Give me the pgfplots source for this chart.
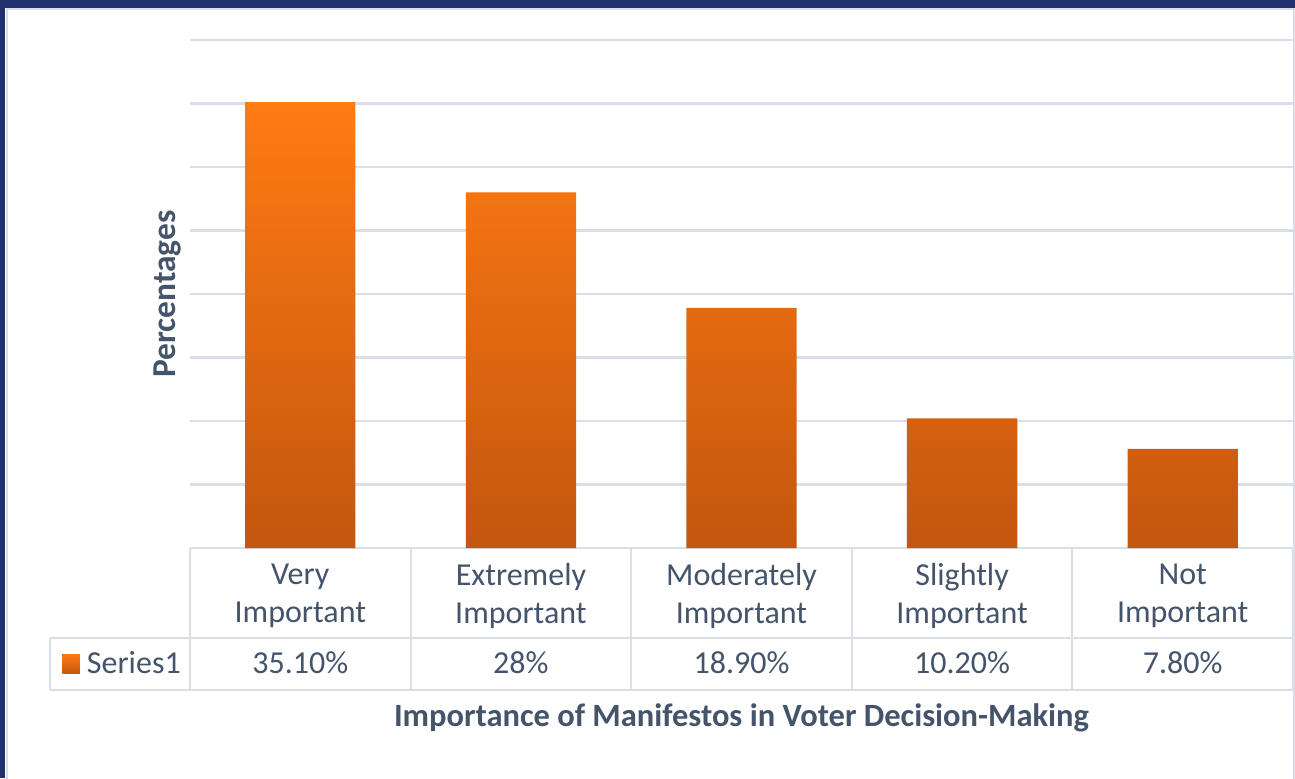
\documentclass[border=0pt]{standalone}
\usepackage{pgfplots}
\usepackage{pgfplotstable}
\pgfplotsset{compat=1.18}
\usepackage{fontspec}
\setmainfont{Carlito}

\definecolor{frameNavy}{HTML}{21316A}
\definecolor{rule}{HTML}{D9DEE8}
\definecolor{ink}{HTML}{44546A}
\definecolor{barTop}{HTML}{FF7B13}
\definecolor{barBot}{HTML}{C4560E}

% share of respondents per importance level (label column = printed value)
\pgfplotstableread[col sep=comma]{
idx,pct,label
0,35.1,35.10
1,28,28
2,18.9,18.90
3,10.2,10.20
4,7.8,7.80
}\importance

\newcommand{\cellfont}{\fontsize{16}{19}\selectfont}
\newcommand{\xtitlefont}{\fontsize{16.25}{18}\selectfont\bfseries}
\newcommand{\ytitlefont}{\fontsize{16.7}{18}\selectfont\bfseries}

\begin{document}
\begin{tikzpicture}
\useasboundingbox (0,0) rectangle (647.5pt,389pt);
% page and frame
\fill[white] (0,0) rectangle (647.5pt,389pt);
\fill[frameNavy] (0,385pt) rectangle (647.5pt,389pt);
\fill[frameNavy] (0,0) rectangle (2.6pt,389pt);
\draw[rule, line width=1pt] (3.3pt,-1pt) -- (3.3pt,384.4pt) -- (646.9pt,384.4pt) -- (646.9pt,-1pt);

\begin{axis}[
  at={(95pt,115pt)}, anchor=south west,
  scale only axis, width=551.5pt, height=254pt,
  clip=false,
  xmin=-0.5, xmax=4.5, ymin=0, ymax=40,
  xtick={0,...,4},
  xticklabels={{Very\\Important},{Extremely\\Important},{Moderately\\Important},{Slightly\\Important},{Not\\Important}},
  xticklabel style={align=center, anchor=center, yshift=-24pt, text=ink, font=\cellfont},
  ytick={0,5,...,40}, yticklabels={},
  major tick length=0pt,
  ymajorgrids, grid style={rule, line width=1.3pt},
  axis line style={draw=none},
  ylabel={Percentages},
  ylabel style={at={(axis description cs:-0.02,0.5)}, anchor=center, text=ink, font=\ytitlefont},
  xlabel={Importance of Manifestos in Voter Decision-Making},
  xlabel style={at={(axis description cs:0.5,-0.335)}, anchor=center, text=ink, font=\xtitlefont},
  legend style={draw=none, fill=none, at={(-0.116,-0.2283)}, anchor=west,
    inner sep=0pt, column sep=3.5pt, font=\cellfont, text=ink,
    nodes={inner sep=0pt, text=ink}},
]
% data table rules
\draw[rule, line width=1pt] (axis cs:-1.1346,-7.087) -- (axis cs:4.5,-7.087);
\draw[rule, line width=1pt] (axis cs:-1.1346,-11.18) -- (axis cs:4.5,-11.18);
\draw[rule, line width=1pt] (axis cs:-1.1346,-7.087) -- (axis cs:-1.1346,-11.18);
\pgfplotsinvokeforeach{-0.5,0.5,1.5,2.5,3.5,4.5}{
  \draw[rule, line width=1pt] (axis cs:#1,0) -- (axis cs:#1,-11.18);
}
\addplot[ybar, bar width=0.5, draw=none, top color=barTop, bottom color=barBot,
  legend image code/.code={\fill[top color=barTop, bottom color=barBot] (0pt,-4.75pt) rectangle (8.75pt,4.75pt);}]
  table[x=idx, y=pct] {\importance};
\addlegendentry{Series1}
% value row of the data table
\addplot[draw=none, mark=none, forget plot,
  point meta=explicit symbolic,
  nodes near coords={\pgfplotspointmeta\%},
  every node near coord/.style={anchor=center, text=ink, font=\cellfont}]
  table[x=idx, y expr=-9.06, meta=label] {\importance};
\end{axis}
\end{tikzpicture}
\end{document}
